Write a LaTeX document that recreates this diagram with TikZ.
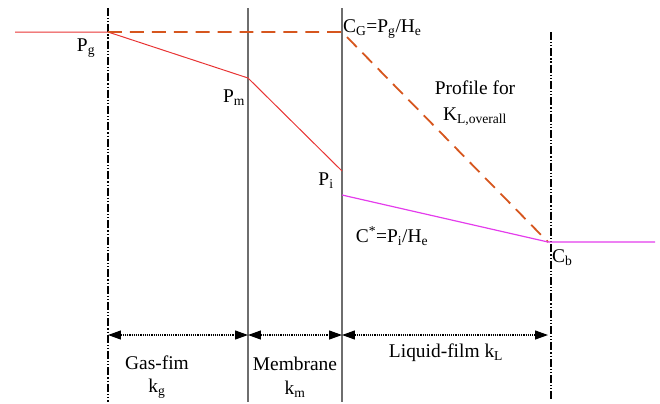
\documentclass[tikz,border=0pt]{standalone}
\usepackage{fontspec}
\setmainfont{Liberation Serif}
\usetikzlibrary{arrows.meta}

\definecolor{gasred}{RGB}{232,52,52}
\definecolor{overorange}{RGB}{214,86,30}
\definecolor{liqmagenta}{RGB}{228,60,236}
\definecolor{wallgray}{RGB}{110,110,110}

\tikzset{
    boundary/.style={black, line width=1.8pt, dash pattern=on 8pt off 2pt on 1.2pt off 2pt on 1.2pt off 2pt},
    wall/.style={wallgray, line width=1.5pt},
    span/.style={black, line width=1.2pt, densely dotted, {Triangle[length=13pt,width=9pt]}-{Triangle[length=13pt,width=9pt]}},
    lbl/.style={font=\fontsize{19.5}{21}\selectfont, inner sep=0pt}
}

\begin{document}
\begin{tikzpicture}[x=1bp,y=-1bp]
    \useasboundingbox (0,0) rectangle (660,403);

    % Key points
    \coordinate (start) at (15,32);
    \coordinate (Pg) at (108,32);
    \coordinate (Pm) at (248,78);
    \coordinate (Pi) at (342,171);
    \coordinate (CG) at (342,32);
    \coordinate (Cs) at (342,195);
    \coordinate (Cb) at (548,242);
    \coordinate (end) at (655,242);

    % Boundaries
    \draw[boundary] (108,8) -- (108,402);
    \draw[wall] (248,8) -- (248,402);
    \draw[wall] (342,8) -- (342,402);
    \draw[boundary] (551,32) -- (551,400);

    % Profiles
    \draw[gasred, line width=1pt] (start) -- (Pg) -- (Pm) -- (Pi);
    \draw[overorange, line width=1.8pt, dash pattern=on 14pt off 8pt] (Pg) -- (CG) -- (Cb);
    \draw[liqmagenta, line width=1.2pt] (Cs) -- (Cb) -- (end);

    % Labels
    \node[lbl] (lPg) at (86,48) {P\textsubscript{g}};
    \node[lbl] (lPm) at (234,98) {P\textsubscript{m}};
    \node[lbl] (lPi) at (326,181) {P\textsubscript{i}};
    \node[lbl, anchor=west] (lCG) at (343,29) {C\textsubscript{G}=P\textsubscript{g}/H\textsubscript{e}};
    \node[lbl] (lprof) at (475,88) {Profile for};
    \node[lbl] (lKL) at (475,117) {K\textsubscript{L,overall}};
    \node[lbl] (lCs) at (392,236) {C\textsuperscript{*}=P\textsubscript{i}/H\textsubscript{e}};
    \node[lbl, anchor=west] (lCb) at (552,258) {C\textsubscript{b}};

    % Film spans
    \coordinate (a0) at (108,335);
    \coordinate (a1) at (248,335);
    \coordinate (a2) at (342,335);
    \coordinate (a3) at (548,335);
    \draw[span] (a0) -- (a1);
    \draw[span] (a1) -- (a2);
    \draw[span] (a2) -- (a3);

    \node[lbl] (lgas) at (157,363) {Gas-fim};
    \node[lbl] (lkg) at (157,389) {k\textsubscript{g}};
    \node[lbl] (lmem) at (295,364) {Membrane};
    \node[lbl] (lkm) at (295,389) {k\textsubscript{m}};
    \node[lbl] (lliq) at (446,353) {Liquid-film k\textsubscript{L}};
\end{tikzpicture}
\end{document}
